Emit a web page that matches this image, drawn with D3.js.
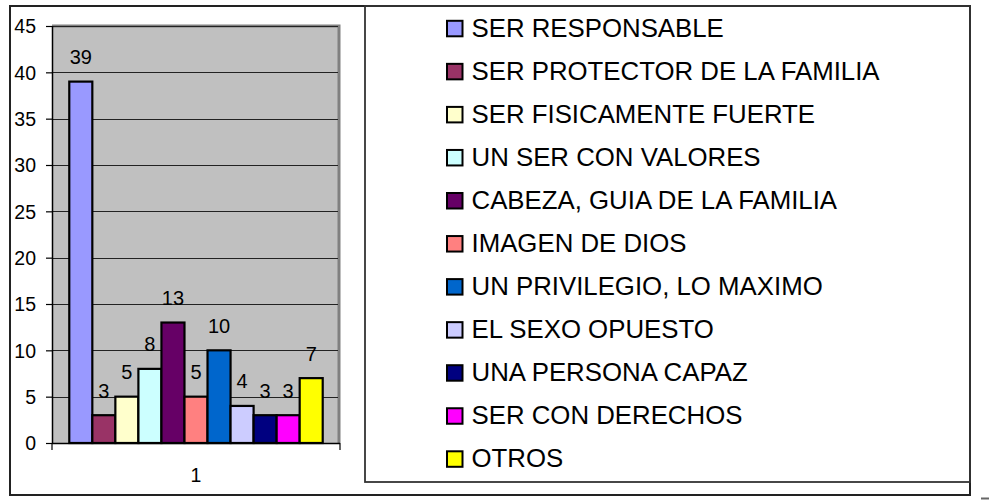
<!DOCTYPE html>
<html>
<head>
<meta charset="utf-8">
<script src="https://cdn.jsdelivr.net/npm/d3@7"></script>
<style>
  html, body { margin: 0; padding: 0; background: #fff; }
  svg { display: block; font-family: "Liberation Sans", Arial, sans-serif; }
</style>
</head>
<body>
<svg id="chart" width="989" height="504"></svg>
<script>
// Survey answers: what being a man means
const categories = [
  "SER RESPONSABLE",
  "SER PROTECTOR DE LA FAMILIA",
  "SER FISICAMENTE FUERTE",
  "UN SER CON VALORES",
  "CABEZA, GUIA DE LA FAMILIA",
  "IMAGEN DE DIOS",
  "UN PRIVILEGIO, LO MAXIMO",
  "EL SEXO OPUESTO",
  "UNA PERSONA CAPAZ",
  "SER CON DERECHOS",
  "OTROS"
];
const values = [39, 3, 5, 8, 13, 5, 10, 4, 3, 3, 7];
const groups = ["1"];
const yTicks = [0, 5, 10, 15, 20, 25, 30, 35, 40, 45];
const colors = ["#9999FF", "#993366", "#FFFFCC", "#CCFFFF", "#660066", "#FF8080",
                "#0066CC", "#CCCCFF", "#000080", "#FF00FF", "#FFFF00"];

const svg = d3.select("#chart");

// outer chart frame
svg.append("rect")
  .attr("x", 10).attr("y", 6).attr("width", 960).attr("height", 489)
  .attr("fill", "none").attr("stroke", "#222").attr("stroke-width", 2);

// plot area
const plot = { left: 52, right: 340, top: 26, bottom: 443 };

const y = d3.scaleLinear().domain([0, 45]).range([plot.bottom, plot.top]);
const x0 = d3.scaleBand().domain(groups).range([plot.left, plot.right]);
const x1 = d3.scaleBand().domain(categories)
  .range([x0(groups[0]), x0(groups[0]) + x0.bandwidth()])
  .paddingInner(0).paddingOuter(0.75);
const color = d3.scaleOrdinal().domain(categories).range(colors);

// grey wall with darker top/right edge
svg.append("rect")
  .attr("x", plot.left).attr("y", plot.top)
  .attr("width", plot.right - plot.left).attr("height", plot.bottom - plot.top)
  .attr("fill", "#C0C0C0");
svg.append("path")
  .attr("d", `M${plot.left},${plot.top}H${plot.right - 1}V${plot.bottom}`)
  .attr("fill", "none").attr("stroke", "#808080").attr("stroke-width", 3);

// gridlines
svg.append("g")
  .selectAll("line")
  .data(yTicks.filter(t => t > 0))
  .join("line")
  .attr("x1", plot.left).attr("x2", plot.right - 2)
  .attr("y1", d => Math.round(y(d)) + 0.5).attr("y2", d => Math.round(y(d)) + 0.5)
  .attr("stroke", "#222").attr("stroke-width", 1);

// bars
svg.append("g")
  .selectAll("rect")
  .data(categories.map((c, i) => ({ c, v: values[i] })))
  .join("rect")
  .attr("x", d => x1(d.c))
  .attr("y", d => y(d.v))
  .attr("width", x1.bandwidth())
  .attr("height", d => y(0) - y(d.v))
  .attr("fill", d => color(d.c))
  .attr("stroke", "#000").attr("stroke-width", 2.2);

// value labels
svg.append("g")
  .selectAll("text")
  .data(categories.map((c, i) => ({ c, v: values[i] })))
  .join("text")
  .attr("x", d => x1(d.c) + x1.bandwidth() / 2)
  .attr("y", d => y(d.v) - 17.5)
  .attr("text-anchor", "middle")
  .attr("font-size", 20)
  .attr("fill", "#000")
  .text(d => d.v);

// y axis
const yAxis = svg.append("g")
  .attr("transform", `translate(${plot.left},0)`)
  .call(d3.axisLeft(y).tickValues(yTicks).tickSize(6).tickPadding(10));
yAxis.select(".domain").attr("stroke", "#000").attr("stroke-width", 1.5)
  .attr("d", `M0.5,${plot.top}V${plot.bottom}`);
yAxis.selectAll(".tick line").attr("stroke", "#000").attr("stroke-width", 1.2);
yAxis.selectAll(".tick text")
  .attr("font-size", 19.5).attr("font-family", "Liberation Sans, Arial, sans-serif")
  .attr("fill", "#000").attr("dy", "0.35em");

// x axis with ticks at the category boundaries
const xAxis = svg.append("g")
  .attr("transform", `translate(0,${plot.bottom})`)
  .call(d3.axisBottom(x0).tickSize(0).tickPadding(25));
xAxis.select(".domain").attr("stroke", "#000").attr("stroke-width", 1.5)
  .attr("d", `M${plot.left},0.5H${plot.right}`);
xAxis.selectAll(".tick text")
  .attr("font-size", 19.5).attr("font-family", "Liberation Sans, Arial, sans-serif")
  .attr("fill", "#000");
xAxis.append("g")
  .selectAll("line")
  .data(x0.domain().flatMap(g => [x0(g), x0(g) + x0.bandwidth()]))
  .join("line")
  .attr("x1", d => d).attr("x2", d => d)
  .attr("y1", 0).attr("y2", 7)
  .attr("stroke", "#000").attr("stroke-width", 1.2);

// legend
svg.append("rect")
  .attr("x", 365).attr("y", 6).attr("width", 605).attr("height", 476)
  .attr("fill", "none").attr("stroke", "#333").attr("stroke-width", 1.8);

const legend = svg.append("g")
  .selectAll("g")
  .data(categories)
  .join("g")
  .attr("transform", (d, i) => `translate(446,${28.3 + i * 43.05})`);
legend.append("rect")
  .attr("x", 1).attr("y", -7.5).attr("width", 15.5).attr("height", 15.5)
  .attr("fill", d => color(d)).attr("stroke", "#000").attr("stroke-width", 2);
legend.append("text")
  .attr("x", 25.5).attr("y", 8.6)
  .attr("font-size", 25.8).attr("fill", "#000")
  .text(d => d);

// small stray mark in the lower right corner
svg.append("line")
  .attr("x1", 981).attr("x2", 989).attr("y1", 498.5).attr("y2", 498.5)
  .attr("stroke", "#666").attr("stroke-width", 2);
</script>
</body>
</html>
